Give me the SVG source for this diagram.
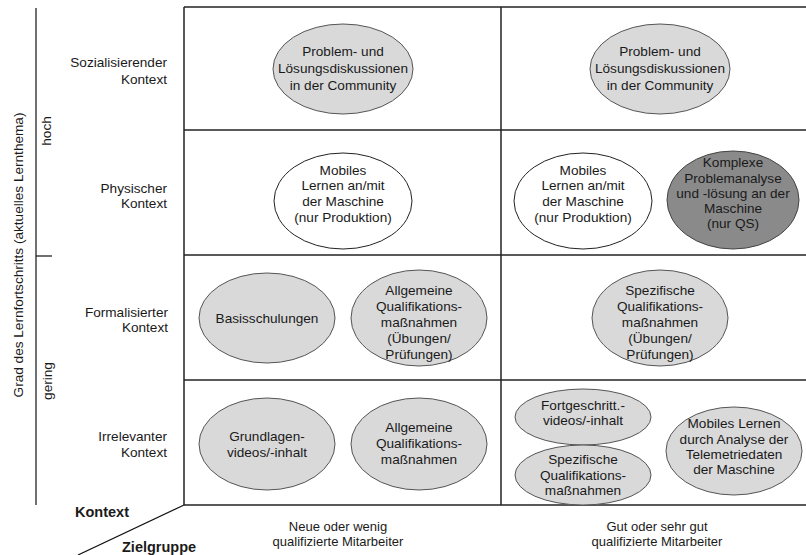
<svg xmlns="http://www.w3.org/2000/svg" width="806" height="555" viewBox="0 0 806 555">
<style>
text{font-family:"Liberation Sans",Arial,Helvetica,sans-serif;font-size:13.6px;fill:#1a1a1a}
.c{text-anchor:middle}
.r{text-anchor:end}
.b{font-weight:bold;font-size:14.5px}
.s{font-size:13px}
.grid{stroke:#222;stroke-width:1.5;fill:none}
.ax{stroke:#111;stroke-width:1.2;fill:none}
.lg{fill:#d9d9d9;stroke:#555;stroke-width:1}
.wh{fill:#fff;stroke:#222;stroke-width:1}
.dk{fill:#8a8a8a;stroke:#444;stroke-width:1}
</style>
<rect width="806" height="555" fill="#fff"/>
<g id="axes">
<line class="ax" x1="36" y1="8" x2="36" y2="505"/>
<line class="ax" x1="36" y1="256" x2="52" y2="256"/>
<text class="c" transform="translate(23,255) rotate(-90)">Grad des Lernfortschritts (aktuelles Lernthema)</text>
<text class="c" transform="translate(51,131) rotate(-90)">hoch</text>
<text class="c" transform="translate(52,381) rotate(-90)">gering</text>
<text class="r" x="167" y="67">Sozialisierender</text>
<text class="r" x="167" y="84">Kontext</text>
<text class="r" x="167" y="193">Physischer</text>
<text class="r" x="167" y="208">Kontext</text>
<text class="r" x="168" y="317">Formalisierter</text>
<text class="r" x="168" y="332">Kontext</text>
<text class="r" x="167" y="441">Irrelevanter</text>
<text class="r" x="167" y="457">Kontext</text>
<text class="b" x="75" y="517">Kontext</text>
<text class="b" x="122" y="552">Zielgruppe</text>
<text class="c s" x="338" y="531">Neue oder wenig</text>
<text class="c s" x="338" y="546">qualifizierte Mitarbeiter</text>
<text class="c s" x="657" y="531">Gut oder sehr gut</text>
<text class="c s" x="657" y="546">qualifizierte Mitarbeiter</text>
</g>
<g id="grid">
<line class="grid" x1="184" y1="7" x2="806" y2="7"/>
<line class="grid" x1="184" y1="130" x2="806" y2="130"/>
<line class="grid" x1="184" y1="255" x2="806" y2="255"/>
<line class="grid" x1="184" y1="380" x2="806" y2="380"/>
<line class="grid" x1="184" y1="505" x2="806" y2="505"/>
<line class="grid" x1="184" y1="7" x2="184" y2="505"/>
<line class="grid" x1="501" y1="7" x2="501" y2="505"/>
<line class="ax" x1="184" y1="505" x2="78" y2="555"/>
</g>
<g id="n1">
<ellipse class="lg" cx="343" cy="69" rx="70" ry="45"/>
<text class="c" x="343" y="56">Problem- und</text>
<text class="c" x="343" y="73">Lösungsdiskussionen</text>
<text class="c" x="343" y="90">in der Community</text>
</g>
<g id="n2">
<ellipse class="lg" cx="660" cy="69" rx="70" ry="45"/>
<text class="c" x="660" y="56">Problem- und</text>
<text class="c" x="660" y="73">Lösungsdiskussionen</text>
<text class="c" x="660" y="90">in der Community</text>
</g>
<g id="n3">
<ellipse class="wh" cx="343" cy="201" rx="69" ry="48"/>
<text class="c" x="343" y="175">Mobiles</text>
<text class="c" x="343" y="190">Lernen an/mit</text>
<text class="c" x="343" y="206">der Maschine</text>
<text class="c" x="343" y="222">(nur Produktion)</text>
</g>
<g id="n4">
<ellipse class="wh" cx="583" cy="201" rx="69" ry="48"/>
<text class="c" x="583" y="175">Mobiles</text>
<text class="c" x="583" y="190">Lernen an/mit</text>
<text class="c" x="583" y="206">der Maschine</text>
<text class="c" x="583" y="222">(nur Produktion)</text>
</g>
<g id="n5">
<ellipse class="dk" cx="733" cy="200" rx="66" ry="49"/>
<text class="c" x="733" y="167">Komplexe</text>
<text class="c" x="733" y="183">Problemanalyse</text>
<text class="c" x="733" y="198">und -lösung an der</text>
<text class="c" x="733" y="213">Maschine</text>
<text class="c" x="733" y="228">(nur QS)</text>
</g>
<g id="n6">
<ellipse class="lg" cx="267" cy="318" rx="68" ry="45"/>
<text class="c" x="267" y="323">Basisschulungen</text>
</g>
<g id="n7">
<ellipse class="lg" cx="419" cy="318" rx="68" ry="48"/>
<text class="c" x="419" y="295">Allgemeine</text>
<text class="c" x="419" y="311">Qualifikations-</text>
<text class="c" x="419" y="327">maßnahmen</text>
<text class="c" x="419" y="343">(Übungen/</text>
<text class="c" x="419" y="359">Prüfungen)</text>
</g>
<g id="n8">
<ellipse class="lg" cx="660" cy="318" rx="68" ry="48"/>
<text class="c" x="660" y="295">Spezifische</text>
<text class="c" x="660" y="311">Qualifikations-</text>
<text class="c" x="660" y="327">maßnahmen</text>
<text class="c" x="660" y="343">(Übungen/</text>
<text class="c" x="660" y="359">Prüfungen)</text>
</g>
<g id="n9">
<ellipse class="lg" cx="267" cy="444" rx="68" ry="46"/>
<text class="c" x="267" y="441">Grundlagen-</text>
<text class="c" x="267" y="457">videos/-inhalt</text>
</g>
<g id="n10">
<ellipse class="lg" cx="419" cy="444" rx="68" ry="46"/>
<text class="c" x="419" y="432">Allgemeine</text>
<text class="c" x="419" y="448">Qualifikations-</text>
<text class="c" x="419" y="464">maßnahmen</text>
</g>
<g id="n11">
<ellipse class="lg" cx="583" cy="417" rx="68" ry="28"/>
<text class="c" x="583" y="410">Fortgeschritt.-</text>
<text class="c" x="583" y="425">videos/-inhalt</text>
</g>
<g id="n12">
<ellipse class="lg" cx="583" cy="475" rx="68" ry="30"/>
<text class="c" x="583" y="464">Spezifische</text>
<text class="c" x="583" y="480">Qualifikations-</text>
<text class="c" x="583" y="495">maßnahmen</text>
</g>
<g id="n13">
<ellipse class="lg" cx="734" cy="451" rx="68" ry="44"/>
<text class="c" x="734" y="428">Mobiles Lernen</text>
<text class="c" x="734" y="444">durch Analyse der</text>
<text class="c" x="734" y="459">Telemetriedaten</text>
<text class="c" x="734" y="474">der Maschine</text>
</g>
</svg>
